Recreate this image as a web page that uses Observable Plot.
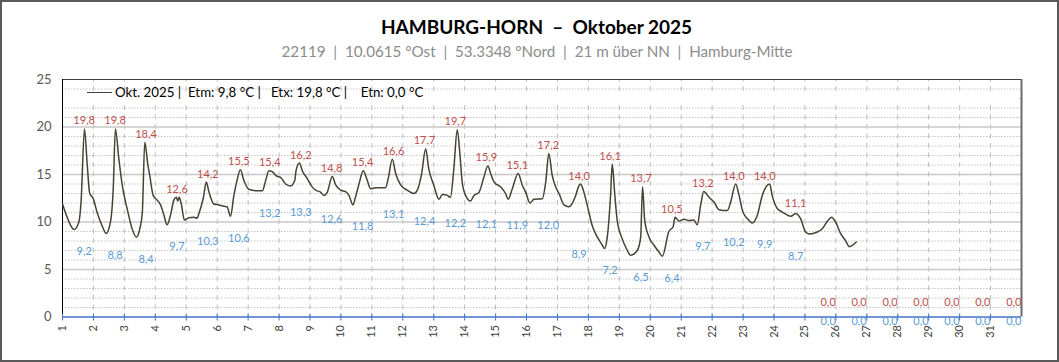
<!DOCTYPE html>
<html>
<head>
<meta charset="utf-8">
<script src="https://cdn.jsdelivr.net/npm/d3@7"></script>
<script src="https://cdn.jsdelivr.net/npm/@observablehq/plot@0.6"></script>
<style>
  body { margin: 0; background: #fff; }
  #wrap { position: relative; width: 1059px; height: 362px; overflow: hidden; font-family: Lato, sans-serif; background:#fff; }
  #wrap svg { position: absolute; left: 0; top: 0; }
  #title { position: absolute; left: 0; width: 1073px; top: 16px; text-align: center; font-weight: bold; font-size: 19px; line-height: 1.2; white-space: pre; color: #000; }
  #subtitle { position: absolute; left: 0; width: 1074px; top: 42px; text-align: center; font-size: 15.2px; line-height: 1.2; white-space: pre; color: #8c8c8c; }
  #legbox { position: absolute; left: 63px; top: 92px; width: 956px; height: 11px; background: #fff; }
  #legline { position: absolute; left: 87px; top: 92px; width: 25px; height: 0; border-top: 1.5px solid #474232; }
  #legtext { position: absolute; left: 115px; top: 85px; font-size: 13.3px; line-height: 1.2; white-space: pre; color: #000; }
  #frame { position: absolute; left: 0; top: 0; width: 1059px; height: 362px; box-sizing: border-box; border: 2px solid #595959; pointer-events: none; }
</style>
</head>
<body>
<div id="wrap"></div>
<script>
// ---- data ----
const stationTitle = "HAMBURG-HORN  \u2013  Oktober 2025";
const stationInfo = "22119  |  10.0615 \u00B0Ost  |  53.3348 \u00B0Nord  |  21 m \u00FCber NN  |  Hamburg-Mitte";
const seriesName = "Okt. 2025";
const monthMean = 9.8;

const days = [1,2,3,4,5,6,7,8,9,10,11,12,13,14,15,16,17,18,19,20,21,22,23,24,25,26,27,28,29,30,31];
const dayMax = [19.8,19.8,18.4,12.6,14.2,15.5,15.4,16.2,14.8,15.4,16.6,17.7,19.7,15.9,15.1,17.2,14.0,16.1,13.7,10.5,13.2,14.0,14.0,11.1,0,0,0,0,0,0,0];
const dayMin = [9.2,8.8,8.4,9.7,10.3,10.6,13.2,13.3,12.6,11.8,13.1,12.4,12.2,12.1,11.9,12.0,8.9,7.2,6.5,6.4,9.7,10.2,9.9,8.7,0,0,0,0,0,0,0];

// time in days (1 = 1 Oct 00:00) and temperature °C
const obsTime = [1.00,1.15,1.27,1.37,1.53,1.60,1.71,1.80,1.88,1.99,2.12,2.28,2.41,2.55,2.64,2.71,2.82,2.93,3.09,3.25,3.39,3.50,3.58,3.66,3.76,3.82,3.93,4.06,4.17,4.28,4.38,4.49,4.60,4.68,4.73,4.77,4.84,4.94,5.08,5.25,5.35,5.41,5.55,5.65,5.73,5.89,6.05,6.22,6.32,6.43,6.54,6.63,6.75,6.86,7.02,7.24,7.46,7.57,7.67,7.78,7.91,8.05,8.21,8.37,8.51,8.55,8.66,8.75,8.91,9.07,9.18,9.34,9.45,9.56,9.72,9.83,9.99,10.15,10.26,10.39,10.47,10.60,10.72,10.83,10.96,11.12,11.44,11.53,11.66,11.77,11.93,12.14,12.36,12.47,12.61,12.74,12.84,13.00,13.17,13.28,13.44,13.54,13.65,13.76,13.85,13.92,14.03,14.19,14.30,14.46,14.62,14.75,14.84,14.95,15.16,15.32,15.41,15.54,15.73,15.86,15.97,16.11,16.24,16.51,16.62,16.72,16.83,16.94,17.05,17.21,17.37,17.42,17.59,17.69,17.75,17.82,17.96,18.12,18.29,18.45,18.52,18.61,18.72,18.77,18.85,18.93,19.09,19.26,19.36,19.58,19.69,19.75,19.82,19.96,20.12,20.28,20.39,20.60,20.74,20.80,20.93,21.09,21.25,21.41,21.52,21.63,21.73,21.90,22.06,22.22,22.49,22.60,22.76,22.87,22.98,23.14,23.30,23.46,23.62,23.86,23.94,24.11,24.27,24.54,24.70,24.86,25.02,25.13,25.40,25.56,25.72,25.86,25.99,26.15,26.31,26.44,26.53,26.66];
const obsTemp = [11.9,10.5,9.6,9.2,10.0,12.1,19.8,16.0,13.0,12.5,11.0,9.6,8.8,10.0,13.5,19.8,16.7,13.9,11.4,9.3,8.4,9.3,11.0,18.4,16.0,14.9,12.8,12.3,11.8,10.7,9.7,10.7,12.3,12.6,12.2,12.6,11.9,10.2,10.45,10.5,10.4,10.9,12.5,14.2,13.2,11.9,11.8,11.65,11.6,10.6,12.8,14.2,15.5,14.4,13.45,13.3,13.3,14.4,15.4,15.3,14.85,14.7,14.0,13.8,14.4,15.4,16.2,15.4,14.6,13.7,13.35,13.15,12.8,13.15,14.8,13.9,13.35,13.2,12.8,11.8,12.6,14.2,15.4,14.6,13.5,13.6,13.6,14.6,16.6,15.1,13.9,13.35,13.0,13.35,15.1,17.7,15.6,13.9,12.4,12.9,12.8,12.6,15.6,19.7,17.0,14.2,12.8,12.2,12.8,13.1,14.7,15.9,15.1,14.2,13.7,13.0,12.4,13.5,15.1,13.9,13.15,12.0,12.4,12.45,14.2,17.2,14.9,13.7,13.0,11.8,11.6,11.7,12.8,13.8,14.0,13.5,11.8,9.65,8.4,7.55,7.2,8.4,13.0,16.1,13.0,10.2,8.25,7.0,6.5,7.0,8.4,13.7,10.2,8.4,7.55,6.84,6.4,9.0,9.5,10.5,10.1,10.3,10.15,10.2,9.7,11.8,13.2,12.6,12.1,11.3,11.2,12.1,14.0,12.8,11.2,10.35,9.9,10.7,12.8,14.0,12.8,11.4,11.05,10.6,10.9,10.35,8.95,8.75,8.95,9.3,10.05,10.5,10.0,8.8,8.05,7.4,7.55,7.9];

const yTicks = [0,5,10,15,20,25];

// ---- derived tables ----
const fmt = v => v.toFixed(1).replace(".", ",");
const series = obsTime.map((t, i) => ({t, v: obsTemp[i]}));
const stats = days.map((d, i) => ({day: d, max: dayMax[i], min: dayMin[i]}));
const minorY = d3.range(1, 25).filter(v => v % 5 !== 0);
const majorY = [5, 10, 15, 20];
const innerDays = days.slice(1);
const etx = d3.max(dayMax), etn = d3.min(dayMin);

const lineColor = "#474232";
const redLab = "#c0504d";
const blueLab = "#5b9bd5";
const unit = 9.5; // px per °C (plot height / 25)

const chart = Plot.plot({
  width: 1059,
  height: 362,
  marginLeft: 62,
  marginRight: 38,
  marginTop: 79,
  marginBottom: 45.5,
  style: {fontFamily: "Lato, sans-serif", background: "transparent"},
  x: {domain: [1, 32], axis: null},
  y: {domain: [0, 25], axis: null},
  marks: [
    Plot.ruleY(minorY, {stroke: "#c4c4c4", strokeWidth: 1, strokeDasharray: "1.5,1.5"}),
    Plot.ruleX(innerDays, {x: d => d, y1: 0, y2: 25, stroke: "#bdbdbd", strokeWidth: 1, strokeDasharray: `5,${unit - 5}`, strokeDashoffset: 2.5}),
    Plot.ruleY(majorY, {stroke: "#c8c8c8", strokeWidth: 1.4}),
    Plot.ruleY([25], {stroke: "#404040", strokeWidth: 1}),
    Plot.ruleX([32], {stroke: "#6b6b6b", strokeWidth: 2}),
    Plot.ruleX([1], {stroke: "#000", strokeWidth: 1}),
    Plot.line(series, {x: "t", y: "v", stroke: lineColor, strokeWidth: 1.5, curve: "monotone-x"}),
    Plot.ruleY([0], {stroke: "#4472c4", strokeWidth: 1.5}),
    Plot.ruleX(days, {x: d => d, y1: 0, y2: 0, insetTop: -3, insetBottom: -4, stroke: "#4472c4", strokeWidth: 1}),
    Plot.axisY({ticks: yTicks, tickSize: 0, tickPadding: 11, fontSize: 13, fill: "#595959", label: null}),
    Plot.axisX({ticks: days, tickSize: 0, tickPadding: 8, tickRotate: -90, fontSize: 11, fill: "#404040", label: null, tickFormat: d => String(d)}),
    Plot.text(stats.filter(d => d.max !== 0), {x: d => d.day + 0.7, y: "max", text: d => fmt(d.max), dy: -8, fill: redLab, fontSize: 11}),
    Plot.text(stats.filter(d => d.min !== 0), {x: d => d.day + 0.7, y: "min", text: d => fmt(d.min), dy: 22, fill: blueLab, fontSize: 11}),
    Plot.text(stats.filter(d => d.max === 0), {x: d => d.day + 0.75, y: "max", text: d => fmt(d.max), dy: -15, fill: redLab, fontSize: 11}),
    Plot.text(stats.filter(d => d.min === 0), {x: d => d.day + 0.75, y: "min", text: d => fmt(d.min), dy: 4, fill: blueLab, fontSize: 11})
  ]
});

const wrap = document.getElementById("wrap");
wrap.appendChild(chart);

function addDiv(id, text) {
  const el = document.createElement("div");
  el.id = id;
  if (text != null) el.textContent = text;
  wrap.appendChild(el);
  return el;
}
addDiv("title", stationTitle);
addDiv("subtitle", stationInfo);
addDiv("legbox");
addDiv("legline");
addDiv("legtext", `${seriesName} |  Etm: ${fmt(monthMean)} \u00B0C |   Etx: ${fmt(etx)} \u00B0C |    Etn: ${fmt(etn)} \u00B0C`);
addDiv("frame");
</script>
</body>
</html>
